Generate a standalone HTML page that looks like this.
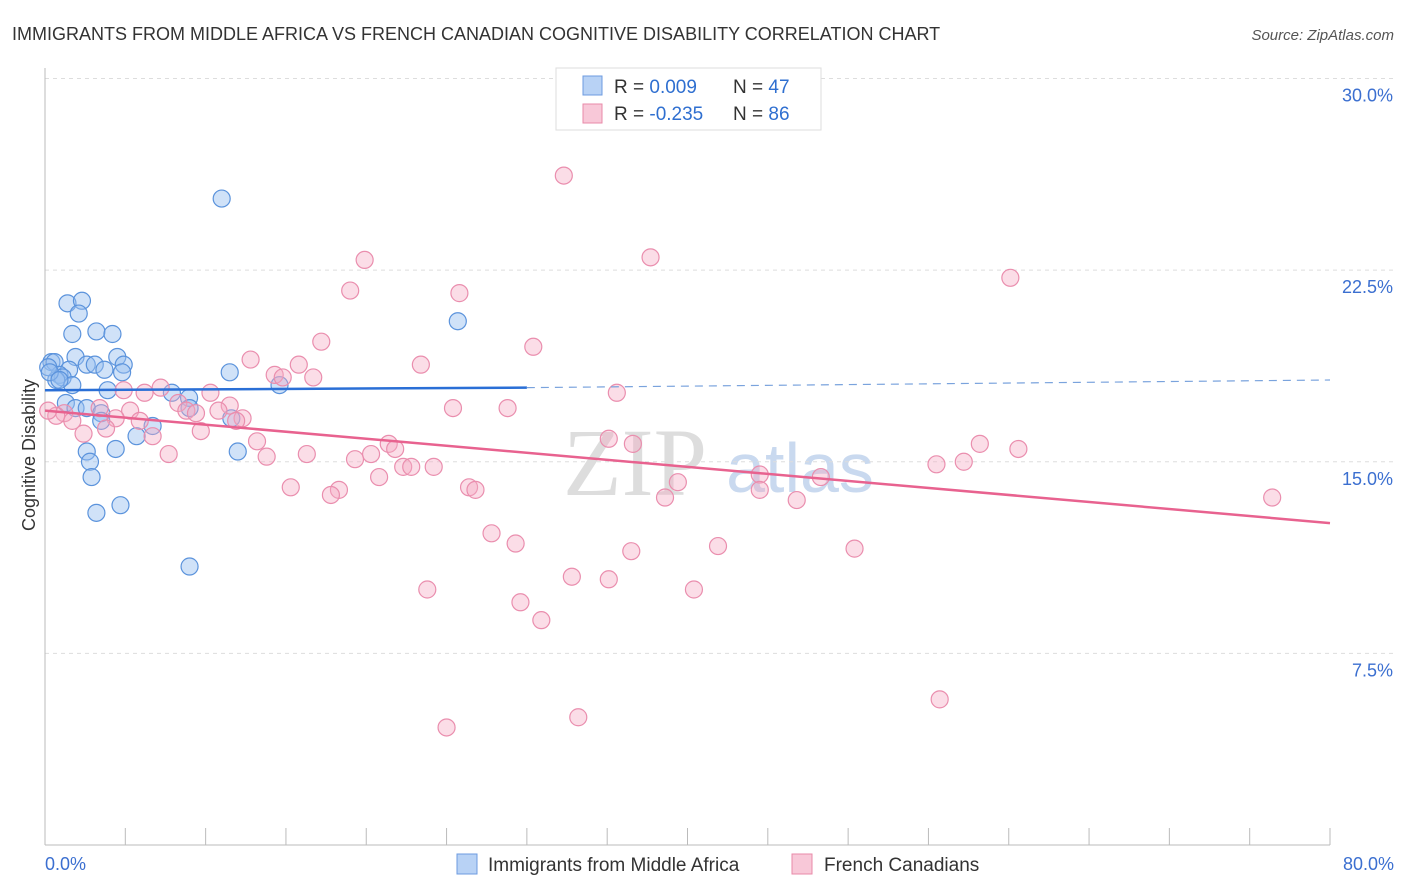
<!DOCTYPE html>
<html><head><meta charset="utf-8"><style>
body{margin:0;background:#fff;font-family:"Liberation Sans",sans-serif;}
svg{display:block}
</style></head><body>
<svg width="1406" height="892" font-family="Liberation Sans, sans-serif">
<text x="12" y="40" font-size="18" fill="#333">IMMIGRANTS FROM MIDDLE AFRICA VS FRENCH CANADIAN COGNITIVE DISABILITY CORRELATION CHART</text>
<text x="1394" y="40" font-size="15" fill="#555" text-anchor="end" font-style="italic">Source: ZipAtlas.com</text>
<text x="635" y="495" font-size="96" fill="#ddd" font-family="Liberation Serif, serif" text-anchor="middle">ZIP</text>
<text x="800" y="492" font-size="70" fill="#c9d9ef" text-anchor="middle">atlas</text>
<g id="grid"></g><g id="axes"></g><g id="pts"></g><g id="lines"></g>
<text x="35" y="455" font-size="18" fill="#333" text-anchor="middle" transform="rotate(-90 35 455)">Cognitive Disability</text>
<text x="45" y="870" font-size="18" fill="#3b6fd0">0.0%</text>
<text x="1394" y="870" font-size="18" fill="#3b6fd0" text-anchor="end">80.0%</text>
<g>
<rect x="556" y="68" width="265" height="62" fill="#fff" stroke="#ddd"/>
<rect x="583" y="76" width="19" height="19" fill="#b8d2f5" stroke="#6d9be0"/>
<rect x="583" y="104" width="19" height="19" fill="#f8c8d8" stroke="#e88aa8"/>
<text x="614" y="93" font-size="19" fill="#333">R = <tspan fill="#2f6fd0">0.009</tspan></text>
<text x="733" y="93" font-size="19" fill="#333">N = <tspan fill="#2f6fd0">47</tspan></text>
<text x="614" y="120" font-size="19" fill="#333">R = <tspan fill="#2f6fd0">-0.235</tspan></text>
<text x="733" y="120" font-size="19" fill="#333">N = <tspan fill="#2f6fd0">86</tspan></text>
</g>
<g>
<rect x="457" y="854" width="20" height="20" fill="#b8d2f5" stroke="#6d9be0"/>
<text x="488" y="871" font-size="19" fill="#333">Immigrants from Middle Africa</text>
<rect x="792" y="854" width="20" height="20" fill="#f8c8d8" stroke="#e88aa8"/>
<text x="824" y="871" font-size="19" fill="#333">French Canadians</text>
</g>
</svg>
<script>
const yTicks=[7.5,15,22.5,30];
const yTickLabels=["7.5%","15.0%","22.5%","30.0%"];
const xTicks=[0,10,20,30,40,50,60,70,80];
const blueX=[11.0,1.4,2.3,2.1,1.7,3.2,4.2,25.7,0.4,0.6,1.9,2.6,3.1,4.5,4.9,3.7,1.5,0.9,1.1,4.8,0.7,1.7,11.5,14.6,3.9,7.9,8.97,1.3,1.9,2.6,3.5,3.5,11.6,6.7,5.7,4.4,2.6,2.8,12.0,2.9,4.7,3.2,9.0,0.2,0.3,0.9,9.0];
const blueY=[25.3,21.2,21.3,20.8,20.0,20.1,20.0,20.5,18.9,18.9,19.1,18.8,18.8,19.1,18.8,18.6,18.6,18.4,18.3,18.5,18.2,18.0,18.5,18.0,17.8,17.7,17.5,17.3,17.1,17.1,16.9,16.6,16.7,16.4,16.0,15.5,15.4,15.0,15.4,14.4,13.3,13.0,10.9,18.7,18.5,18.2,17.1];
const pinkX=[37.3,32.3,37.7,19.9,60.1,19.0,25.8,17.2,30.4,12.8,23.4,15.8,14.3,14.8,16.7,7.2,4.9,6.2,10.3,35.6,8.3,11.5,25.4,28.8,8.8,10.8,5.3,1.2,3.4,9.4,0.7,4.4,12.3,11.9,5.9,1.7,2.4,9.7,3.8,6.7,13.2,21.4,35.1,36.6,58.2,60.6,21.8,20.3,16.3,13.8,7.7,19.3,22.3,22.8,24.2,55.5,57.2,44.5,20.8,48.3,39.4,26.4,26.8,15.3,18.3,17.8,44.5,38.6,46.8,76.4,27.8,29.3,36.5,41.9,50.4,32.8,35.1,23.8,40.4,29.6,30.9,55.7,33.2,25.0,0.2];
const pinkY=[29.5,26.2,23.0,22.9,22.2,21.7,21.6,19.7,19.5,19.0,18.8,18.8,18.4,18.3,18.3,17.9,17.8,17.7,17.7,17.7,17.3,17.2,17.1,17.1,17.0,17.0,17.0,16.9,17.1,16.9,16.8,16.7,16.7,16.6,16.6,16.6,16.1,16.2,16.3,16.0,15.8,15.7,15.9,15.7,15.7,15.5,15.5,15.3,15.3,15.2,15.3,15.1,14.8,14.8,14.8,14.9,15.0,14.5,14.4,14.4,14.2,14.0,13.9,14.0,13.9,13.7,13.9,13.6,13.5,13.6,12.2,11.8,11.5,11.7,11.6,10.5,10.4,10.0,10.0,9.5,8.8,5.7,5.0,4.6,17.0];
const blueTrend=[[0,17.8],[30,17.9],[80,18.2]];
const pinkTrend=[[0,17.0],[80,12.6]];
const X=v=>45+v*1285/80, Y=v=>845-v*25.55;
const NS="http://www.w3.org/2000/svg";
function mk(t,a,p){const e=document.createElementNS(NS,t);for(const k in a)e.setAttribute(k,a[k]);document.getElementById(p).appendChild(e);return e;}
yTicks.forEach((t,i)=>{
 const l=mk('line',{x1:45,x2:1394,y1:Y(t),y2:Y(t),stroke:'#ddd','stroke-dasharray':'4,4'},'grid');
 
 
 const tx=mk('text',{x:1393,y:Y(t)+23,'font-size':18,fill:'#3b6fd0','text-anchor':'end'},'grid');
 tx.textContent=yTickLabels[i];
 
 
});
const ax=mk('line',{x1:45,x2:1330,y1:845,y2:845,stroke:'#bbb'},'axes');


const ay=mk('line',{x1:45,x2:45,y1:68,y2:845,stroke:'#bbb'},'axes');


xTicks.forEach(t=>{[0,0.5].forEach(o=>{const v=t+o*10;if(v>80)return;
 const l=mk('line',{x1:X(v),x2:X(v),y1:828,y2:845,stroke:'#bbb'},'axes');
 
 });});
blueX.forEach((v,i)=>{const c=mk('circle',{cx:X(v),cy:Y(blueY[i]),r:8.5,fill:'rgba(150,190,240,0.45)',stroke:'#5b93dc','stroke-width':1.2},'pts');
 
 });
pinkX.forEach((v,i)=>{const c=mk('circle',{cx:X(v),cy:Y(pinkY[i]),r:8.5,fill:'rgba(245,170,195,0.4)',stroke:'#ea8eae','stroke-width':1.2},'pts');
 
 });
const b1=mk('line',{x1:X(blueTrend[0][0]),y1:Y(blueTrend[0][1]),x2:X(blueTrend[1][0]),y2:Y(blueTrend[1][1]),stroke:'#2a6fd6','stroke-width':2.5},'lines');


const b2=mk('line',{x1:X(blueTrend[1][0]),y1:Y(blueTrend[1][1]),x2:X(blueTrend[2][0]),y2:Y(blueTrend[2][1]),stroke:'#7aa3dd','stroke-width':1.2,'stroke-dasharray':'8,6'},'lines');


const p1=mk('line',{x1:X(pinkTrend[0][0]),y1:Y(pinkTrend[0][1]),x2:X(pinkTrend[1][0]),y2:Y(pinkTrend[1][1]),stroke:'#e8628f','stroke-width':2.5},'lines');


</script>
</body></html>
